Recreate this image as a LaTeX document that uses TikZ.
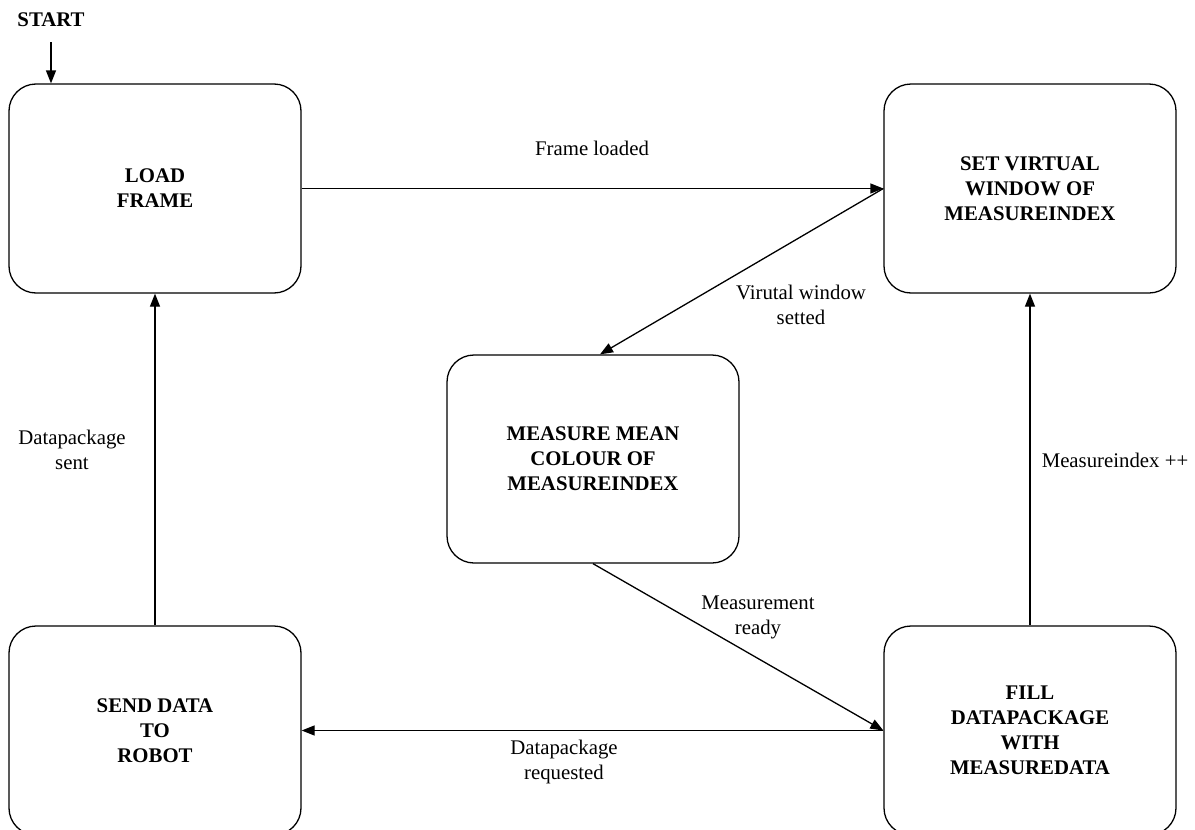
\documentclass[tikz,border=0pt]{standalone}
\usepackage{fontspec}
\setmainfont{Liberation Serif}
\usetikzlibrary{arrows.meta}
\begin{document}
\begin{tikzpicture}[x=1pt,y=-1pt,
  state/.style={draw, line width=1.3pt, rounded corners=27pt, minimum width=292pt, minimum height=209pt, align=center, inner sep=0pt, font=\fontsize{20.8}{25}\selectfont\bfseries},
  lbl/.style={align=center, inner sep=0pt, font=\fontsize{20.8}{25}\selectfont},
  conn/.style={line width=1.3pt, -{Triangle[length=13pt,width=10pt]}}]
\useasboundingbox (0,0) rectangle (1195,830);
\node[state] (load) at (155,188.5) {LOAD\\FRAME};
\node[state] (setvw) at (1030,188.5) {SET VIRTUAL\\WINDOW OF\\MEASUREINDEX};
\node[state, minimum height=208pt] (measure) at (593,459) {MEASURE MEAN\\COLOUR OF\\MEASUREINDEX};
\node[state] (send) at (155,730.5) {SEND DATA\\TO\\ROBOT};
\node[state] (fill) at (1030,730.5) {FILL\\DATAPACKAGE\\WITH\\MEASUREDATA};
\node[lbl, font=\fontsize{20.8}{25}\selectfont\bfseries] (start) at (51,20) {START};
\coordinate (s) at (51,42);
\draw[conn] (s) -- (s |- load.north);
\draw[conn] (load.east) -- (setvw.west);
\draw[conn] (setvw.west) -- ([xshift=7pt]measure.north);
\draw[conn] (measure.south) -- (fill.west);
\draw[conn] (fill.west) -- (send.east);
\draw[conn] (fill.north) -- (setvw.south);
\draw[conn] (send.north) -- (load.south);
\node[lbl] (l1) at (592,148) {Frame loaded};
\node[lbl] (l2) at (801,305) {Virutal window\\setted};
\node[lbl] (l3) at (758,617) {Measurement\\ready};
\node[lbl] (l4) at (564,762) {Datapackage\\requested};
\node[lbl] (l5) at (1115,460) {Measureindex ++};
\node[lbl] (l6) at (72,450) {Datapackage\\sent};
\end{tikzpicture}
\end{document}
